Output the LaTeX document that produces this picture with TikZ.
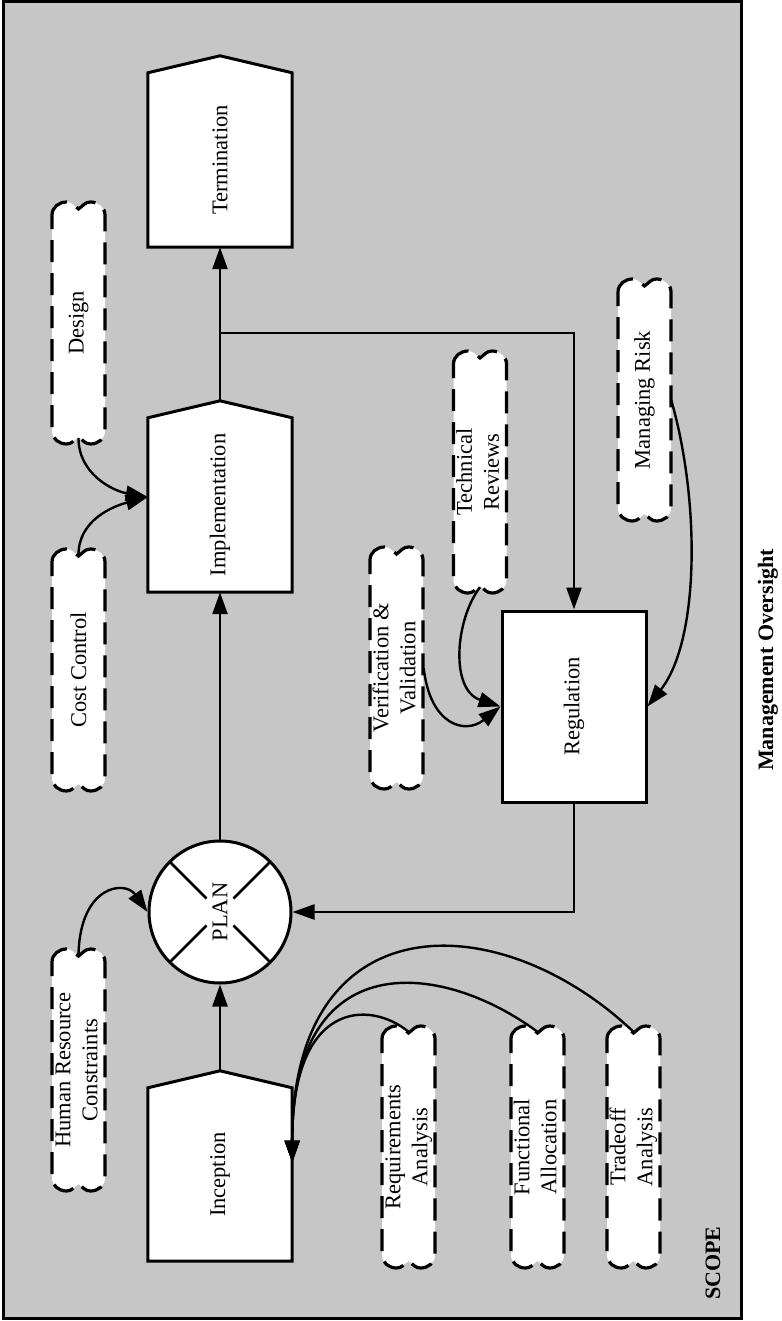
\documentclass[tikz,border=0pt]{standalone}
\usepackage{fontspec}
\setmainfont{Liberation Serif}
\usepackage{graphicx}
\usetikzlibrary{arrows.meta,calc}
\definecolor{scopegray}{RGB}{198,198,198}
\tikzset{
  conn/.style={line width=2.4pt, -{Triangle[length=22pt,width=15pt]}},
  boxline/.style={line width=3pt, line join=miter},
  cloudline/.style={line width=3.2pt, dash pattern=on 22pt off 11pt, fill=white},
  lbl/.style={font=\fontsize{22.5}{27}\selectfont, align=center},
  pentnode/.style={lbl, fill=white, draw=none, inner sep=0pt, minimum width=144pt},
  cloudnode/.style={lbl, draw=none, inner sep=0pt, minimum width=53pt, minimum height=230pt},
  boldlbl/.style={font=\fontsize{22}{24}\selectfont\bfseries, rotate=90},
}
\newcommand\pentoutline[2]{%
  \coordinate (#2) at ($(#1.north)+(0pt,17pt)$);
  \fill[white] (#1.north west) -- (#2) -- (#1.north east) -- cycle;
  \draw[boxline] (#1.south west) -- (#1.north west) -- (#2) -- (#1.north east) -- (#1.south east) -- cycle;}
\newcommand\dcloud[4]{%
  \begin{scope}[shift={(#2,#3)}]
    \draw[cloudline] (-26.5,108) to[out=90,in=180] (-12,121) to[out=0,in=145] (0,114)
      to[out=35,in=180] (12,121) to[out=0,in=90] (26.5,108) -- (26.5,-108)
      to[out=-90,in=0] (12,-121) to[out=180,in=-35] (0,-114)
      to[out=-145,in=0] (-12,-121) to[out=180,in=-90] (-26.5,-108) -- cycle;
  \end{scope}
  \node[cloudnode] (#1) at (#2,#3) {\rotatebox{90}{#4}};}
\newcommand\twol[2]{\begin{tabular}{@{}c@{}}#1\\#2\end{tabular}}
\begin{document}
\begin{tikzpicture}[x=1pt,y=1pt]
  \useasboundingbox (0,0) rectangle (781,-1321);
  \filldraw[fill=scopegray, draw=black, line width=3pt] (3,-2) rectangle (741,-1318);

  % main process boxes
  \node[pentnode, minimum height=174pt] (term) at (220,-160) {\rotatebox{90}{Termination}};
  \pentoutline{term}{termpeak}
  \node[pentnode, minimum height=174pt] (impl) at (220,-505) {\rotatebox{90}{Implementation}};
  \pentoutline{impl}{implpeak}
  \node[pentnode, minimum height=173pt] (incep) at (220,-1174.5) {\rotatebox{90}{Inception}};
  \pentoutline{incep}{inceppeak}

  \node[lbl, circle, draw, line width=3pt, fill=white, minimum size=142pt, inner sep=0pt] (plan) at (220,-912) {\rotatebox{90}{PLAN}};
  \foreach \a in {45,135,225,315}
    \draw[line width=2.5pt] ($(plan.center)+(\a:19pt)$) -- ($(plan.center)+(\a:71pt)$);

  \node[lbl, draw, boxline, fill=white, minimum width=144pt, minimum height=191pt, inner sep=0pt] (reg) at (574,-706.5) {\rotatebox{90}{Regulation}};

  % dashed cloud inputs
  \dcloud{design}{78.5}{-323}{Design}
  \dcloud{cost}{78.5}{-670}{Cost Control}
  \dcloud{hr}{78.5}{-1070}{\twol{Human Resource}{Constraints}}
  \dcloud{risk}{644.5}{-400}{Managing Risk}
  \dcloud{tech}{480}{-472}{\twol{Technical}{Reviews}}
  \dcloud{vv}{396.5}{-668}{\twol{Verification \&}{Validation}}
  \dcloud{req}{408.5}{-1147}{\twol{Requirements}{Analysis}}
  \dcloud{func}{537.5}{-1147}{\twol{Functional}{Allocation}}
  \dcloud{trade}{633.5}{-1147}{\twol{Tradeoff}{Analysis}}

  % labels
  \node[boldlbl] (mgmt) at (768,-660) {Management Oversight};
  \node[boldlbl] (scope) at (713,-1263) {SCOPE};

  % straight connectors
  \coordinate (branch) at (220,-333);
  \draw[conn] (implpeak) -- (term.south);
  \draw[conn] (branch) -| (reg.north);
  \draw[conn] (plan.north) -- (impl.south);
  \draw[conn] (inceppeak) -- (plan.south);
  \draw[conn] (reg.south) |- (plan.east);

  % curved connectors
  \coordinate (implin) at ($(impl.west)+(0pt,8pt)$);
  \coordinate (incepin) at ($(incep.east)+(0pt,12pt)$);
  \draw[conn] (design.south) to[out=-90,in=170] (implin);
  \draw[conn] (cost.north) to[out=90,in=195] (implin);
  \draw[conn] (hr.north) .. controls (80,-885) and (125,-880) .. (plan.west);
  \draw[conn] (vv.east) .. controls (430,-725) and (465,-735) .. (reg.west);
  \draw[conn] (tech.south) .. controls (455,-620) and (450,-690) .. (reg.west);
  \draw[conn] (risk.east) .. controls (700,-500) and (700,-640) .. (reg.east);
  \draw[conn] (req.north) .. controls (370,-1000) and (292,-1000) .. (incepin);
  \draw[conn] (func.north) .. controls (440,-960) and (292,-945) .. (incepin);
  \draw[conn] (trade.north) .. controls (500,-905) and (292,-900) .. (incepin);
\end{tikzpicture}
\end{document}
